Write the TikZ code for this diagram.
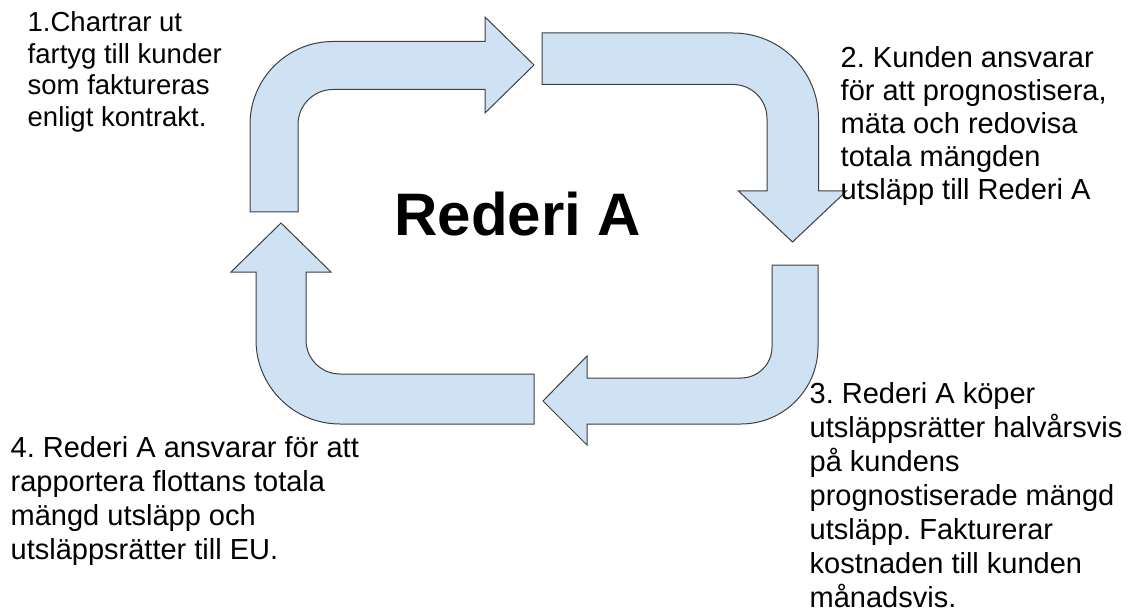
\documentclass[tikz,border=0pt]{standalone}
\usepackage{fontspec}
\setmainfont{Liberation Sans}
\definecolor{arrowfill}{HTML}{CFE2F3}
\definecolor{arrowline}{HTML}{3C4043}
\newcommand\myst{\rule{0pt}{0.8em}}
\frenchspacing
\begin{document}
\begin{tikzpicture}[x=1pt,y=-1pt,
  blockarrow/.style={fill=arrowfill,draw=arrowline,line width=1pt,line join=miter},
  note/.style={anchor=north west,inner sep=0pt,align=left,text=black}]
\useasboundingbox (0,0) rectangle (1136,615);
% arrow 1 (top left, pointing right)
\draw[blockarrow] (250,212) -- (250,124.5)
  arc[start angle=180,end angle=90,radius=83pt] -- (485,41.5) -- (485,17) -- (534,65)
  -- (485,113) -- (485,89.5) -- (333,89.5)
  arc[start angle=90,end angle=180,radius=35pt] -- (298,212) -- cycle;
% arrow 2 (top right, pointing down)
\draw[blockarrow] (542,33) -- (733,33)
  arc[start angle=90,end angle=0,radius=85.5pt] -- (818.5,191) -- (846.5,191) -- (792.5,242)
  -- (738.5,191) -- (767,191) -- (767,118.5)
  arc[start angle=0,end angle=90,radius=34pt] -- (542,84.5) -- cycle;
% arrow 3 (bottom right, pointing left)
\draw[blockarrow] (772,265) -- (818,265) -- (818,347)
  arc[start angle=0,end angle=-90,radius=77pt] -- (587,424) -- (587,445) -- (543,401)
  -- (587,356) -- (587,378) -- (741,378)
  arc[start angle=-90,end angle=0,radius=31pt] -- cycle;
% arrow 4 (bottom left, pointing up)
\draw[blockarrow] (534,374) -- (340,374)
  arc[start angle=-90,end angle=-180,radius=34pt] -- (306,272) -- (331,272) -- (281,223)
  -- (231,272) -- (256,272) -- (256,340)
  arc[start angle=180,end angle=270,radius=84pt] -- (534,424) -- cycle;
% texts
\node[anchor=base,inner sep=0pt,font=\bfseries\fontsize{60}{72}\selectfont] (title) at (518,235) {Rederi A};
\node[note,font=\fontsize{27.5}{31.5}\selectfont] (t1) at (27.5,9.7)
  {\myst 1.Chartrar ut\\fartyg till kunder\\som faktureras\\enligt kontrakt.};
\node[note,font=\fontsize{29}{33}\selectfont] (t2) at (840.5,43.8)
  {\myst 2. Kunden ansvarar\\för att prognostisera,\\mäta och redovisa\\totala mängden\\utsläpp till Rederi A};
\node[note,font=\fontsize{29}{34}\selectfont] (t3) at (809.5,379.8)
  {\myst 3. Rederi A köper\\utsläppsrätter halvårsvis\\på kundens\\prognostiserade mängd\\utsläpp. Fakturerar\\kostnaden till kunden\\månadsvis.};
\node[note,font=\fontsize{29}{34}\selectfont] (t4) at (10.5,433.8)
  {\myst 4. Rederi A ansvarar för att\\rapportera flottans totala\\mängd utsläpp och\\utsläppsrätter till EU.};
\end{tikzpicture}
\end{document}
